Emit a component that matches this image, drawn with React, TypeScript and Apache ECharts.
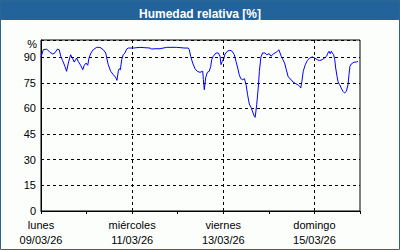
import React, { useEffect, useRef } from "react";
import * as echarts from "echarts";

const TITLE = "Humedad relativa [%]";
const Y_UNIT = "%";
// hours since lunes 09/03/26 00:00
const hours = [
  0, 1.2, 3.0, 4.7, 6.2, 7.4, 8.6, 9.6, 10.4, 11.4, 12.6, 13.5, 14.4, 15.6, 16.7, 17.5, 18.8, 19.6, 20.9, 22.0,
  22.8, 23.7, 24.6, 25.3, 26.3, 27.5, 29.3, 31.1, 32.8, 34.1, 34.6, 35.4, 36.7, 38.1, 39.5, 40.0, 40.7, 41.2,
  41.8, 42.5, 43.3, 44.2, 45.1, 46.0, 48.6, 52.1, 57.4, 58.3, 60.0, 62.7, 66.2, 71.5, 75.8, 77.6, 78.1, 78.8,
  79.9, 81.1, 82.3, 83.7, 85.2, 85.5, 86.0, 86.7, 87.6, 88.6, 89.4, 89.9, 90.7, 92.2, 93.4, 94.3, 94.8, 95.5,
  96.4, 96.9, 98.1, 99.5, 100.7, 101.8, 102.7, 103.6, 104.4, 105.2, 106.2, 107.1, 108.0, 108.8, 109.7, 110.6,
  111.5, 112.3, 112.8, 113.6, 114.4, 115.0, 115.8, 116.7, 118.0, 118.9, 120.2, 121.1, 122.3, 124.1, 125.3,
  126.5, 127.4, 128.3, 129.2, 130.1, 131.0, 131.8, 132.7, 133.6, 134.4, 135.3, 136.2, 136.8, 137.4, 138.1,
  139.2, 140.2, 141.5, 142.9, 144.1, 145.5, 146.8, 148.1, 149.4, 150.4, 151.1, 151.7, 152.3, 152.9, 153.4,
  154.1, 154.7, 155.2, 155.9, 156.4, 156.9, 157.3, 158.1, 159.0, 159.9, 160.8, 161.7, 162.2, 162.7, 163.4,
  164.8, 166.0, 166.9,
];
const humidity = [
  90, 94.3, 94.7, 92.8, 91.8, 92.6, 94.7, 94.3, 90.5, 87.9, 84.6, 81.7, 86.5, 91.4, 89, 87.1, 89.5, 87.5, 85.2, 82.6,
  85.2, 86.5, 85.2, 89.5, 92.4, 94.3, 95.7, 95.7, 94.3, 92.4, 89.5, 85.6, 81.7, 79.7, 77.8, 76.4, 81.7, 83.2,
  82.6, 88.5, 91.4, 92.4, 94.7, 95.3, 95.3, 95.7, 95.3, 94.7, 94.9, 94.9, 95.7, 95.7, 95.3, 95.3, 94.3, 90.5,
  86.5, 83.2, 81.7, 81.1, 81.7, 76.8, 70.9, 77.8, 81.1, 81.7, 84.6, 88.5, 90.5, 92.4, 92.4, 90.5, 85.6, 87.5,
  89.5, 91.8, 93.4, 94, 93.4, 91.4, 87.5, 83.6, 79.7, 77.4, 76.8, 77.4, 73.9, 68, 62.6, 60.6,
  57.9, 55.4, 54.8, 62.2, 71.9, 81.7, 89.9, 92.4, 92.4, 91.4, 92, 90.5, 91.8, 93, 94.3,
  90.5, 88.5, 86.5, 82.6, 78.8, 77.4, 76.8, 75.4, 74.9, 74.3, 73.9, 72.9, 71.9, 75.8, 81.7,
  85.6, 87.9, 89.5, 90.1, 89.5, 88.5, 88, 88.5, 89.5, 90.5, 92.4, 93.4, 92, 93.4, 92.4,
  91.4, 88.5, 83.6, 78.8, 75.8, 74.3, 73.9, 71.9, 70, 69, 70, 73.9, 79.7, 84.6, 86,
  87, 87.1, 87.5,
];
const labelHours = [0, 48, 96, 144];
const dayNames = ["lunes", "miércoles", "viernes", "domingo"];
const dayDates = ["09/03/26", "11/03/26", "13/03/26", "15/03/26"];
const gridHours = [48, 96, 144];

export default function App() {
  const ref = useRef<HTMLDivElement>(null);
  useEffect(() => {
    const chart = echarts.init(ref.current!, null, { renderer: "svg" });
    const font = "Liberation Sans";
    chart.setOption({
      animation: false,
      backgroundColor: "#fcfefc",
      title: {
        text: TITLE,
        left: "center",
        top: 3,
        textStyle: { color: "#fff", fontSize: 12, fontWeight: "bold", fontFamily: font },
      },
      graphic: [
        { type: "rect", z: -1, shape: { x: 0, y: 0, width: 400, height: 20 }, style: { fill: "#22639c" } },
        {
          type: "rect",
          shape: { x: 0.5, y: 0.5, width: 399, height: 249 },
          style: { fill: "none", stroke: "#2b6592", lineWidth: 1 },
        },
        {
          type: "text",
          x: 37,
          y: 44,
          style: { text: Y_UNIT, fill: "#000", fontSize: 11, fontFamily: font, align: "right", verticalAlign: "middle" },
        },
      ],
      grid: { left: 41, right: 40, top: 40, bottom: 39, show: true, borderColor: "#000", borderWidth: 1 },
      xAxis: {
        type: "value",
        min: 0,
        max: 168,
        interval: 24,
        axisLine: { lineStyle: { color: "#000" } },
        axisTick: { show: true, length: 3, lineStyle: { color: "#000" } },
        splitLine: { show: false },
        axisLabel: {
          color: "#000",
          fontSize: 11,
          fontFamily: font,
          margin: 6,
          lineHeight: 15,
          formatter: (v: number) => {
            const i = labelHours.indexOf(v);
            return i >= 0 ? dayNames[i] + "\n" + dayDates[i] : "";
          },
        },
      },
      yAxis: {
        type: "value",
        min: 0,
        max: 100,
        interval: 15,
        axisLine: { show: true, lineStyle: { color: "#000" } },
        axisTick: { show: false },
        splitLine: { show: true, lineStyle: { color: "#000", type: [3, 3] } },
        axisLabel: {
          color: "#000",
          fontSize: 11,
          fontFamily: font,
          margin: 5,
          formatter: (v: number) => (v > 90 ? "" : String(v)),
        },
      },
      series: [
        {
          type: "line",
          data: hours.map((h, i) => [h, humidity[i]]),
          showSymbol: false,
          lineStyle: { color: "#0000ff", width: 1 },
          markLine: {
            silent: true,
            symbol: "none",
            label: { show: false },
            lineStyle: { color: "#000", type: [3, 3], width: 1 },
            data: gridHours.map((h) => ({ xAxis: h })),
          },
        },
      ],
    });
    return () => chart.dispose();
  }, []);
  return <div ref={ref} style={{ position: "fixed", left: 0, top: 0, width: 400, height: 250 }} />;
}
